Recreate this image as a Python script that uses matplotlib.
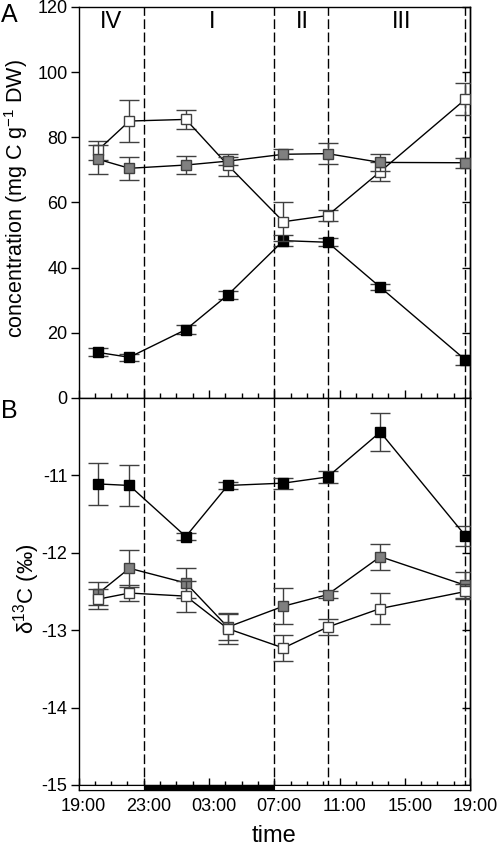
import matplotlib
matplotlib.use("Agg")
import matplotlib.pyplot as plt
import matplotlib.transforms as mtransforms
from matplotlib.patches import Rectangle
from matplotlib.ticker import MultipleLocator

plt.rcParams['font.family'] = ['Liberation Sans', 'DejaVu Sans']
plt.rcParams['mathtext.fontset'] = 'custom'
plt.rcParams['mathtext.rm'] = 'Liberation Sans'
plt.rcParams['mathtext.it'] = 'Liberation Sans'
plt.rcParams['mathtext.bf'] = 'Liberation Sans'
plt.rcParams['axes.unicode_minus'] = False

# hours after 19:00 of the sampling times
times = [1.18, 3.12, 6.58, 9.15, 12.56, 15.27, 18.5, 23.72]
phase_bounds = [4, 12, 15.27, 23.72]
phase_labels = ["IV", "I", "II", "III"]
phase_centers = [2.0, 8.2, 13.7, 19.8]
xtick_labels = ["19:00", "23:00", "03:00", "07:00", "11:00", "15:00", "19:00"]
night_start, night_end = 4, 12

# Panel A: concentrations
conc_black = [14.0, 12.5, 21.0, 31.6, 48.3, 47.8, 34.0, 11.7]
conc_black_err = [1.2, 1.0, 1.5, 1.2, 1.8, 1.2, 1.0, 1.5]
conc_gray = [73.3, 70.5, 71.5, 72.7, 74.8, 75.0, 72.3, 72.2]
conc_gray_err = [4.5, 3.5, 2.8, 1.2, 1.5, 3.3, 2.5, 1.5]
conc_white = [76.0, 85.0, 85.5, 71.5, 54.1, 56.0, 69.5, 91.7]
conc_white_err = [3.0, 6.4, 3.0, 3.5, 6.0, 1.8, 2.8, 4.9]

# Panel B: delta 13C
d13_black = [-11.11, -11.13, -11.79, -11.13, -11.10, -11.02, -10.44, -11.78]
d13_black_err = [0.27, 0.26, 0.05, 0.04, 0.07, 0.08, 0.25, 0.13]
d13_gray = [-12.53, -12.20, -12.39, -12.96, -12.69, -12.54, -12.05, -12.42]
d13_gray_err = [0.15, 0.24, 0.20, 0.17, 0.23, 0.05, 0.17, 0.17]
d13_white = [-12.60, -12.52, -12.56, -12.98, -13.23, -12.96, -12.72, -12.50]
d13_white_err = [0.13, 0.10, 0.20, 0.20, 0.17, 0.10, 0.20, 0.10]

W, H = 498, 848
fig = plt.figure(figsize=(W / 100, H / 100), dpi=100)
L, R = 78.5, 470
axA = fig.add_axes([L / W, 1 - 398 / H, (R - L) / W, (398 - 7) / H])
axB = fig.add_axes([L / W, 1 - 790 / H, (R - L) / W, (790 - 398) / H])

styles = {
    'black': dict(mfc='black', mec='black'),
    'gray': dict(mfc='#808080', mec='#404040'),
    'white': dict(mfc='white', mec='#404040'),
}

def series(ax, y, e, kind, z):
    ax.errorbar(times, y, yerr=e, fmt='-s', color='black', lw=1.0,
                ms=7.2, mew=1.0, ecolor='#404040', elinewidth=1.0,
                capsize=7, capthick=1.0, zorder=z, **styles[kind])

series(axA, conc_black, conc_black_err, 'black', 3)
series(axA, conc_white, conc_white_err, 'white', 4)
series(axA, conc_gray, conc_gray_err, 'gray', 5)

series(axB, d13_black, d13_black_err, 'black', 3)
series(axB, d13_gray, d13_gray_err, 'gray', 4)
series(axB, d13_white, d13_white_err, 'white', 5)

for ax in (axA, axB):
    ax.set_xlim(0, 24)
    ax.xaxis.set_major_locator(MultipleLocator(4))
    ax.xaxis.set_minor_locator(MultipleLocator(1))
    for s in ax.spines.values():
        s.set_linewidth(1.0)
    for xb in phase_bounds:
        ax.axvline(xb, color='black', lw=1.0, dashes=(7, 2.5), zorder=1)
    ax.tick_params(axis='y', which='both', left=True, right=False,
                   direction='out', length=6, width=1, labelsize=13, pad=2)

axB.axhline(-15, color='black', lw=1.0, zorder=1)

# Panel A axes
axA.set_ylim(0, 120)
axA.set_yticks(range(0, 121, 20))
axA.tick_params(axis='x', which='major', direction='in', length=6, width=1,
                top=False, bottom=True, labelbottom=False)
axA.tick_params(axis='x', which='minor', direction='in', length=3.6, width=1,
                top=False, bottom=True)
secA = axA.secondary_yaxis('right')
secA.set_yticks(range(0, 121, 20))
secA.tick_params(direction='in', length=6, width=1, labelright=False)
secA.spines['right'].set_linewidth(1.0)

# Panel B axes
ybot = -15 - 5 / 77.25
axB.set_ylim(ybot, -10)
axB.set_yticks([-15, -14, -13, -12, -11])
axB.tick_params(axis='x', which='major', direction='in', length=8.6, width=1,
                top=False, bottom=True, labelsize=13, pad=6)
axB.tick_params(axis='x', which='minor', direction='in', length=6.3, width=1,
                top=False, bottom=True)
axB.set_xticks(range(0, 25, 4))
axB.set_xticklabels(xtick_labels)
shift = mtransforms.ScaledTranslation(5 / 100, 0, fig.dpi_scale_trans)
for lbl in axB.get_xticklabels():
    lbl.set_transform(lbl.get_transform() + shift)
secB = axB.secondary_yaxis('right')
secB.set_yticks([-15, -14, -13, -12, -11])
secB.tick_params(direction='in', length=6, width=1, labelright=False)
secB.spines['right'].set_linewidth(1.0)

# light/dark bar
axB.add_patch(Rectangle((0, ybot), night_start, -15 - ybot, facecolor='white',
                        edgecolor='black', lw=0.8, zorder=6))
axB.add_patch(Rectangle((night_start, ybot), night_end - night_start, -15 - ybot,
                        facecolor='black', edgecolor='black', lw=0.8, zorder=6))
axB.add_patch(Rectangle((night_end, ybot), 24 - night_end, -15 - ybot,
                        facecolor='white', edgecolor='black', lw=0.8, zorder=6))

for lab, xc in zip(phase_labels, phase_centers):
    axA.text(xc, 115.4, lab, ha='center', va='center', fontsize=17)

fig.text(16.5 / W, 1 - 198 / H, 'concentration (mg C g$^{-1}$ DW)',
         rotation=90, ha='center', va='center', fontsize=15.5)
fig.text(27 / W, 1 - 589 / H, 'δ$^{13}$C (‰)',
         rotation=90, ha='center', va='center', fontsize=16)
fig.text(274 / W, 1 - 842 / H, 'time', ha='center', va='baseline', fontsize=17)
fig.text(1 / W, 1 - 14.5 / H, 'A', ha='left', va='center', fontsize=18)
fig.text(1 / W, 1 - 411 / H, 'B', ha='left', va='center', fontsize=18)

fig.savefig('out.png', dpi=100)
